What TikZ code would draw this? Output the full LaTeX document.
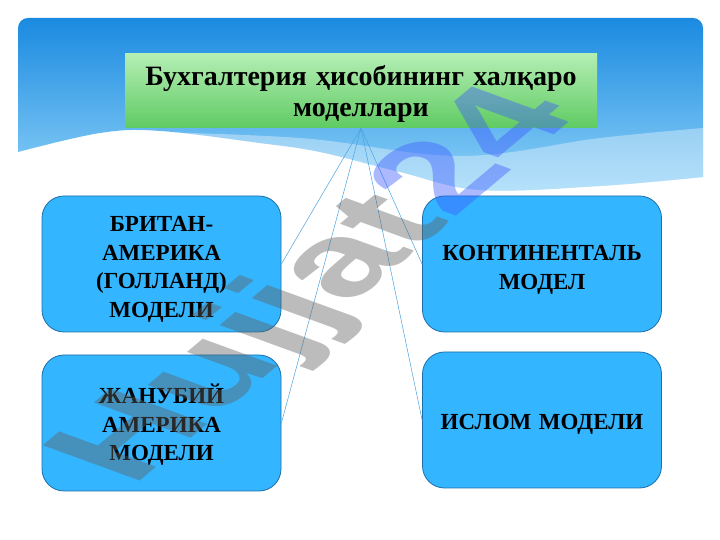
\documentclass[tikz,border=0pt]{standalone}
\usepackage{fontspec}
\setmainfont{Liberation Serif}
\newfontfamily\wmfont{Liberation Sans}
\definecolor{hdrTop}{HTML}{1A8AE0}
\definecolor{hdrBot}{HTML}{8FD2F8}
\definecolor{boxFill}{HTML}{33B5FF}
\definecolor{boxLine}{HTML}{1D6FA8}
\definecolor{lineC}{HTML}{4AA3E0}
\definecolor{grTop}{HTML}{B4EEB4}
\definecolor{grBot}{HTML}{5FCB62}
\definecolor{wmGray}{HTML}{606060}
\definecolor{wmBlue}{HTML}{3C5AFF}
\tikzset{
  modelbox/.style={rounded corners=22pt, fill=boxFill, draw=boxLine, line width=0.8pt,
    minimum width=239pt, minimum height=136pt},
  boxtext/.style={align=center, text width=225pt, inner sep=0pt,
    font=\bfseries\fontsize{23}{28.5}\selectfont},
  titlebox/.style={top color=grTop, bottom color=grBot, minimum width=472pt,
    minimum height=74pt},
  titletext/.style={align=center, text width=465pt, inner sep=0pt,
    font=\bfseries\fontsize{28}{31}\selectfont},
  link/.style={draw=lineC, line width=0.5pt}
}
\begin{document}
\begin{tikzpicture}[x=1pt,y=1pt]
\useasboundingbox (0,0) rectangle (720,540);
\fill[white] (0,0) rectangle (720,540);
% header
\shade[top color=hdrTop, bottom color=hdrBot]
  (18,388) -- (18,512) arc[start angle=180,end angle=90,radius=10pt]
  -- (693,522) arc[start angle=90,end angle=0,radius=10pt]
  -- (703,363)
  -- plot[smooth,tension=0.6] coordinates {(703,363) (600,354) (480,350) (400,368) (320,388) (260,397) (160,409) (100,407) (18,388)}
  -- cycle;
\fill[white,opacity=0.35]
  plot[smooth,tension=0.6] coordinates {(120,409) (300,402) (460,384) (600,402) (703,412)}
  -- (703,363)
  -- plot[smooth,tension=0.6] coordinates {(703,363) (600,354) (480,350) (400,368) (320,388) (260,397) (160,409) (120,409)}
  -- cycle;
% title
\node[titlebox] (title) at (361,449) {};
\node[titletext] (titleT) at ([yshift=-3pt]title.center) {Бухгалтерия ҳисобининг халқаро\\моделлари};
% boxes
\node[modelbox] (tl) at (161.5,276) {};
\node[modelbox] (tr) at (542,276) {};
\node[modelbox] (bl) at (161.5,117) {};
\node[modelbox] (br) at (542,120) {};
\node[boxtext] (tlT) at ([yshift=-5.5pt]tl.center) {БРИТАН-\\АМЕРИКА\\(ГОЛЛАНД)\\МОДЕЛИ};
\node[boxtext] (trT) at ([yshift=-6pt]tr.center) {КОНТИНЕНТАЛЬ\\МОДЕЛ};
\node[boxtext] (blT) at ([yshift=-2pt]bl.center) {ЖАНУБИЙ\\АМЕРИКА\\МОДЕЛИ};
\node[boxtext] (brT) at ([yshift=-4pt]br.center) {ИСЛОМ МОДЕЛИ};
% connectors
\draw[link] (title.south) -- (tl.east);
\draw[link] (title.south) -- (bl.east);
\draw[link] (title.south) -- (tr.west);
\draw[link] (title.south) -- (br.west);
% watermark
\node[transform shape, cm={0.766,0.643,-0.940,0.342,(320pt,253pt)}, text opacity=0.42,
  font=\wmfont\bfseries\fontsize{150}{150}\selectfont, inner sep=0pt] (wm) at (0,0)
  {\textcolor{wmGray}{Hujjat}\textcolor{wmBlue}{24}};
\end{tikzpicture}
\end{document}
